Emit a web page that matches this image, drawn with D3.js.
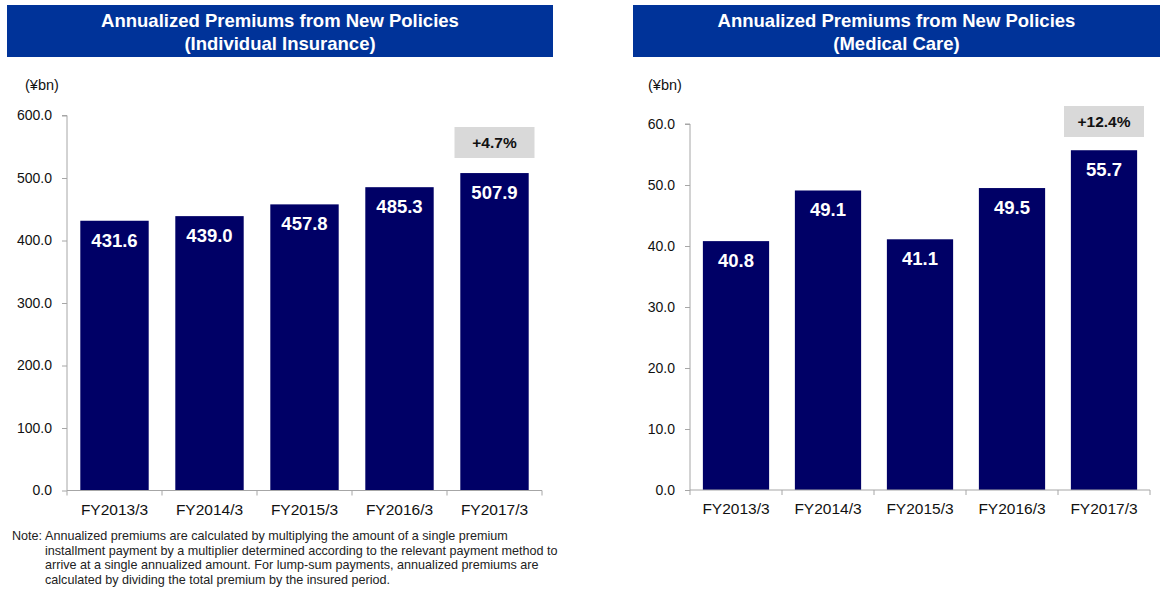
<!DOCTYPE html>
<html>
<head>
<meta charset="utf-8">
<script src="https://cdn.jsdelivr.net/npm/d3@7"></script>
<style>
  html, body { margin: 0; padding: 0; background: #fff; }
  svg { display: block; font-family: "Liberation Sans", Arial, sans-serif; }
</style>
</head>
<body>
<svg id="chart" width="1166" height="589"></svg>
<script>
// Fiscal years shown on both panels
const categories = ["FY2013/3", "FY2014/3", "FY2015/3", "FY2016/3", "FY2017/3"];

// Annualized premiums from new policies (¥bn)
const individualValues = [431.6, 439.0, 457.8, 485.3, 507.9];
const medicalValues = [40.8, 49.1, 41.1, 49.5, 55.7];

// Y-axis ticks
const individualTicks = [0, 100, 200, 300, 400, 500, 600];
const medicalTicks = [0, 10, 20, 30, 40, 50, 60];

// Year-on-year growth callouts on the latest bar
const individualGrowth = "+4.7%";
const medicalGrowth = "+12.4%";

const titleLine1 = "Annualized Premiums from New Policies";
const individualSubtitle = "(Individual Insurance)";
const medicalSubtitle = "(Medical Care)";
const unitLabel = "(¥bn)";

const noteLines = [
  "Annualized premiums are calculated by multiplying the amount of a single premium",
  "installment payment by a multiplier determined according to the relevant payment method to",
  "arrive at a single annualized amount. For lump-sum payments, annualized premiums are",
  "calculated by dividing the total premium by the insured period."
];

const BAR = "#000066";
const BANNER = "#003399";
const AXIS = "#a6a6a6";

const svg = d3.select("#chart");

function panel(cfg) {
  const g = svg.append("g");

  // title banner
  g.append("rect")
    .attr("x", cfg.banner[0]).attr("y", 5)
    .attr("width", cfg.banner[1] - cfg.banner[0]).attr("height", 52)
    .attr("fill", BANNER);
  const cx = (cfg.banner[0] + cfg.banner[1]) / 2;
  g.append("text").attr("x", cx).attr("y", 26.5)
    .attr("text-anchor", "middle").attr("fill", "#fff")
    .attr("font-size", 18.5).attr("font-weight", "bold")
    .text(titleLine1);
  g.append("text").attr("x", cx).attr("y", 49.5)
    .attr("text-anchor", "middle").attr("fill", "#fff")
    .attr("font-size", 18.5).attr("font-weight", "bold")
    .text(cfg.subtitle);

  // unit label
  g.append("text").attr("x", cfg.unitX).attr("y", 90)
    .attr("font-size", 14.5).attr("fill", "#111")
    .text(unitLabel);

  const x = d3.scaleBand().domain(categories)
    .range([cfg.x0, cfg.x1]).paddingInner(0.28).paddingOuter(0.14);
  const y = d3.scaleLinear().domain([0, d3.max(cfg.ticks)])
    .range([cfg.yBottom, cfg.yTop]);

  // y axis
  const yAxis = g.append("g")
    .attr("transform", `translate(${cfg.x0},0)`)
    .call(d3.axisLeft(y).tickValues(cfg.ticks).tickSize(5).tickPadding(10)
      .tickFormat(d3.format(".1f")));
  yAxis.select(".domain").attr("stroke", AXIS).attr("d", `M-5,${y(d3.max(cfg.ticks))}H0V${cfg.yBottom}`);
  yAxis.selectAll(".tick line").attr("stroke", AXIS);
  yAxis.selectAll(".tick text").attr("font-size", 14).attr("fill", "#111")
    .attr("font-family", "Liberation Sans, Arial, sans-serif");

  // bars
  g.selectAll("rect.bar").data(cfg.values).enter().append("rect")
    .attr("class", "bar")
    .attr("x", (d, i) => x(categories[i]))
    .attr("y", d => y(d))
    .attr("width", x.bandwidth())
    .attr("height", d => y(0) - y(d))
    .attr("fill", BAR);

  // value labels inside bars
  g.selectAll("text.val").data(cfg.values).enter().append("text")
    .attr("class", "val")
    .attr("x", (d, i) => x(categories[i]) + x.bandwidth() / 2)
    .attr("y", d => y(d) + 26)
    .attr("text-anchor", "middle").attr("fill", "#fff")
    .attr("font-size", 18.5).attr("font-weight", "bold")
    .text(d => d.toFixed(1));

  // x axis with boundary ticks between categories
  const xg = g.append("g").attr("transform", `translate(0,${cfg.yBottom})`);
  xg.append("line").attr("x1", cfg.x0).attr("x2", cfg.x1)
    .attr("stroke", AXIS);
  const bounds = d3.range(categories.length + 1).map(i => cfg.x0 + i * (cfg.x1 - cfg.x0) / categories.length);
  xg.selectAll("line.b").data(bounds).enter().append("line")
    .attr("class", "b")
    .attr("x1", d => d).attr("x2", d => d).attr("y1", 0).attr("y2", 5)
    .attr("stroke", AXIS);
  xg.selectAll("text").data(categories).enter().append("text")
    .attr("x", d => x(d) + x.bandwidth() / 2)
    .attr("y", 24)
    .attr("text-anchor", "middle").attr("font-size", 15.5).attr("fill", "#111")
    .text(d => d);

  // growth callout above the latest bar
  const last = categories[categories.length - 1];
  const bx = x(last) + x.bandwidth() / 2;
  g.append("rect")
    .attr("x", bx - 40).attr("y", cfg.calloutY)
    .attr("width", 80).attr("height", 31)
    .attr("fill", "#d9d9d9");
  g.append("text").attr("x", bx).attr("y", cfg.calloutY + 21)
    .attr("text-anchor", "middle").attr("font-size", 15.5).attr("font-weight", "bold")
    .attr("fill", "#111")
    .text(cfg.growth);
}

panel({
  banner: [7, 553], subtitle: individualSubtitle, unitX: 25,
  x0: 67, x1: 542, yBottom: 490.5, yTop: 115.5,
  ticks: individualTicks, values: individualValues,
  growth: individualGrowth, calloutY: 127
});

panel({
  banner: [633, 1160], subtitle: medicalSubtitle, unitX: 648,
  x0: 690, x1: 1150, yBottom: 490, yTop: 124,
  ticks: medicalTicks, values: medicalValues,
  growth: medicalGrowth, calloutY: 106
});

// footnote
const note = svg.append("g").attr("font-size", 12.6).attr("fill", "#222");
note.append("text").attr("x", 12).attr("y", 540).text("Note:");
note.selectAll("text.l").data(noteLines).enter().append("text")
  .attr("class", "l")
  .attr("x", 45).attr("y", (d, i) => 540 + i * 14.5)
  .text(d => d);
</script>
</body>
</html>
